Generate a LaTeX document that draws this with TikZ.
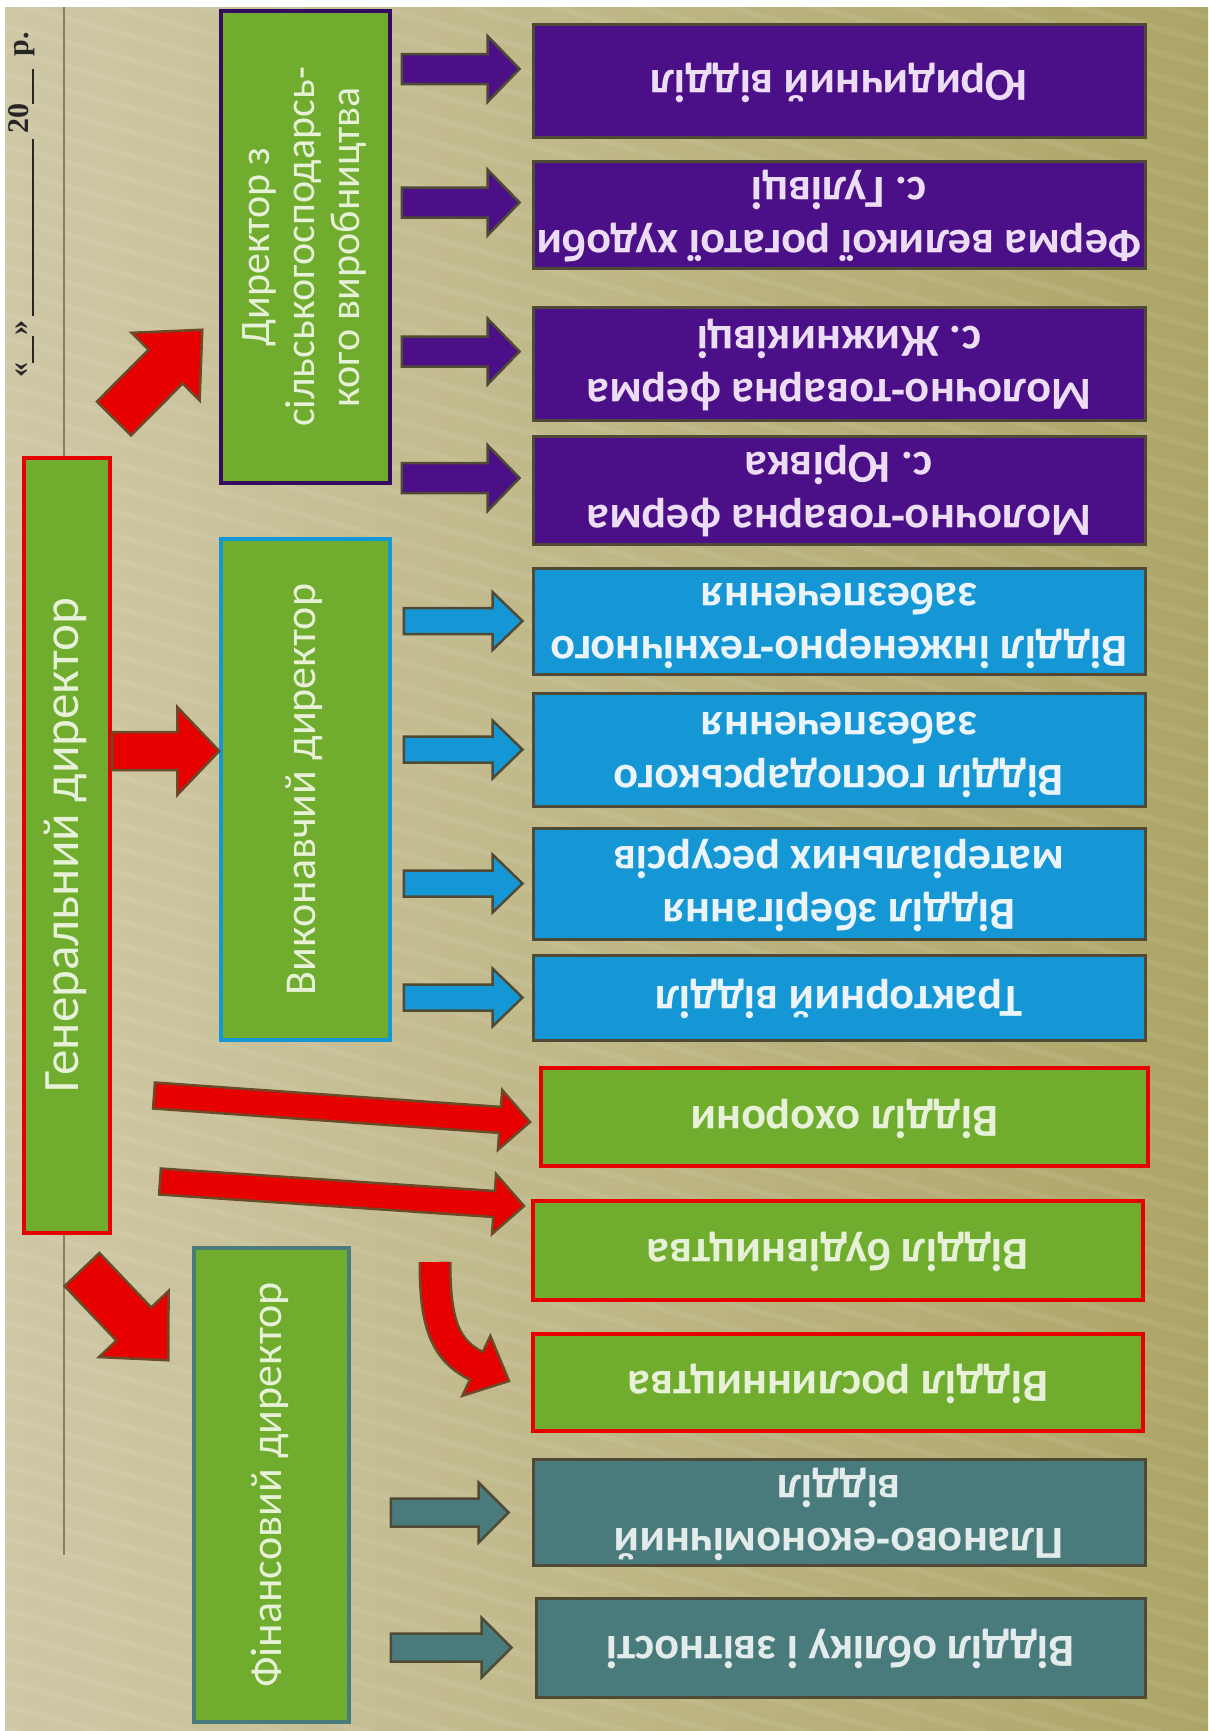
\documentclass[tikz,border=0pt]{standalone}
\usepackage{fontspec}
\setmainfont{Carlito}
\newfontfamily\datefont{Liberation Serif}
\usetikzlibrary{calc}
\frenchspacing

\definecolor{bgL}{HTML}{CFC8A6}
\definecolor{bgM}{HTML}{C7BF97}
\definecolor{bgR}{HTML}{ADA566}
\definecolor{leaf}{HTML}{70AD2F}
\definecolor{plum}{HTML}{4B1088}
\definecolor{sky}{HTML}{1597D5}
\definecolor{slate}{HTML}{4A7B7C}
\definecolor{alarm}{HTML}{E60000}
\definecolor{edge}{HTML}{4E4A35}
\definecolor{rededge}{HTML}{6B4A2A}
\definecolor{pale}{HTML}{E6F1D8}
\definecolor{lilac}{HTML}{ECDDF4}
\definecolor{iceblue}{HTML}{EAF4FA}
\definecolor{mist}{HTML}{E3ECEB}
\definecolor{rulegrey}{HTML}{857F62}

% text turned a quarter (reads upwards) or a half turn
\newcommand\txtturn[1]{\rotatebox{90}{\begin{tabular}{@{}c@{}}#1\end{tabular}}}
\newcommand\txtflip[1]{\rotatebox{180}{\begin{tabular}{@{}c@{}}#1\end{tabular}}}
\newcommand\blank[1]{\rule[-0.2em]{#1}{0.07em}}

% straight block arrow: tail, tip, half shaft, half head, head length, style
\newcommand\blockarrow[6]{%
  \coordinate (ba-c) at ($(#2)!#5!(#1)$);
  \draw[#6] ($(#1)!#3!90:(#2)$) -- ($(ba-c)!#3!90:(#2)$) -- ($(ba-c)!#4!90:(#2)$)
    -- (#2) -- ($(ba-c)!#4!-90:(#2)$) -- ($(ba-c)!#3!-90:(#2)$)
    -- ($(#1)!#3!-90:(#2)$) -- cycle;}

\tikzset{
  rbox/.style={rectangle, inner sep=0pt, minimum width=612bp, line width=3bp,
    font=\fontsize{46bp}{53bp}\selectfont\bfseries},
  purplebox/.style={rbox, fill=plum, draw=edge, text=lilac},
  bluebox/.style={rbox, fill=sky, draw=edge, text=iceblue},
  guardbox/.style={rbox, fill=leaf, draw=alarm, line width=4bp, text=pale},
  tealbox/.style={rbox, fill=slate, draw=edge, text=mist},
  lbox/.style={rectangle, inner sep=0pt, fill=leaf, text=pale, line width=3.5bp,
    font=\fontsize{44bp}{50bp}\selectfont},
  redarrow/.style={fill=alarm, draw=rededge, line width=2.5bp, line join=miter},
  purplearrow/.style={fill=plum, draw=edge, line width=2.5bp},
  bluearrow/.style={fill=sky, draw=edge, line width=2.5bp},
  tealarrow/.style={fill=slate, draw=edge, line width=2.5bp},
}

\begin{document}
\begin{tikzpicture}[x=1bp, y=-1bp]
\useasboundingbox (0,0) rectangle (1208,1731);

% background with soft diagonal stripes
\fill[white] (0,0) rectangle (1208,1731);
\shade[left color=bgL, middle color=bgM, right color=bgR] (5,7) rectangle (1208,1731);
\begin{scope}
  \clip (5,7) rectangle (1208,1731);
  \foreach \k in {-40,...,80}
    \draw[white, opacity=0.07, line width=6bp] (0,\k*24) -- (1208,\k*24+330);
\end{scope}

% date line and margin rule
\node[rotate=90, anchor=base, font=\datefont\bfseries\fontsize{30bp}{34bp}\selectfont,
  text=black!85] (date) at (28,205)
  {«\blank{27bp}»\,\blank{177bp}\,20\blank{35bp}\, р.};
\coordinate (rule-top) at (64,7);
\coordinate (rule-bot) at (64,1555);
\draw[rulegrey, line width=1.8bp] (rule-top) -- (rule-bot);

% directors
\node[lbox, draw=alarm, line width=4bp, minimum width=86bp, minimum height=775bp,
  font=\fontsize{51bp}{56bp}\selectfont]
  (gen) at (67,845) {\txtturn{Генеральний директор}};
\node[lbox, draw=plum!70!black, minimum width=169bp, minimum height=472bp,
  font=\fontsize{42bp}{45bp}\selectfont] (agri) at (305.5,247)
  {\txtturn{Директор з\\сільськогосподарсь-\\кого виробництва}};
\node[lbox, draw=sky, minimum width=169bp, minimum height=501bp]
  (exec) at (305.5,789.5) {\txtturn{Виконавчий директор}};
\node[lbox, draw=slate, minimum width=155bp, minimum height=474bp]
  (fin) at (271.5,1485) {\txtturn{Фінансовий директор}};

% departments
\node[purplebox, minimum height=112bp] (j1) at (839,81) {\txtflip{Юридичний відділ}};
\node[purplebox, minimum height=107bp] (j2) at (839,214.5)
  {\txtflip{Ферма великої рогатої худоби\\с. Гулівці}};
\node[purplebox, minimum height=113bp] (j3) at (839,363.5)
  {\txtflip{Молочно-товарна ферма\\с. Жижниківці}};
\node[purplebox, minimum height=108bp] (j4) at (839,490)
  {\txtflip{Молочно-товарна ферма\\с. Юрівка}};

\node[bluebox, minimum height=100bp] (b1) at (839,621)
  {\txtflip{Відділ інженерно-технічного\\забезпечення}};
\node[bluebox, minimum height=113bp] (b2) at (839,749.5)
  {\txtflip{Відділ господарського\\забезпечення}};
\node[bluebox, minimum height=111bp] (b3) at (839,883.5)
  {\txtflip{Відділ зберігання\\матеріальних ресурсів}};
\node[bluebox, minimum height=85bp] (b4) at (839,997.5)
  {\txtflip{Тракторний відділ}};

\node[guardbox, minimum width=607bp, minimum height=98bp] (g1) at (844.5,1117)
  {\txtflip{Відділ охорони}};
\node[guardbox, minimum width=610bp, minimum height=99bp] (g2) at (838,1250.5)
  {\txtflip{Відділ будівництва}};
\node[guardbox, minimum width=610bp, minimum height=97bp] (g3) at (838,1382.5)
  {\txtflip{Відділ рослинництва}};

\node[tealbox, minimum height=105bp] (t1) at (839,1512.5)
  {\txtflip{Планово-економічний\\відділ}};
\node[tealbox, minimum width=609bp, minimum height=99bp] (t2) at (840.5,1647.5)
  {\txtflip{Відділ обліку і звітності}};

% purple arrows
\foreach \n in {j1,j2,j3,j4}{
  \coordinate (\n-tail) at ($(agri.east |- \n.west)+(10,-12)$);
  \coordinate (\n-tip) at ($(\n.west)+(-12,-12)$);
  \blockarrow{\n-tail}{\n-tip}{15bp}{33bp}{32bp}{purplearrow}
}
% blue arrows
\foreach \n in {b1,b2,b3,b4}{
  \coordinate (\n-tail) at ($(exec.east |- \n.west)+(12,0)$);
  \coordinate (\n-tip) at ($(\n.west)+(-9,0)$);
  \blockarrow{\n-tail}{\n-tip}{13bp}{29bp}{30bp}{bluearrow}
}
% teal arrows
\foreach \n in {t1,t2}{
  \coordinate (\n-tail) at ($(fin.east |- \n.west)+(40,0)$);
  \coordinate (\n-tip) at ($(\n.west)+(-23,0)$);
  \blockarrow{\n-tail}{\n-tip}{14bp}{30bp}{30bp}{tealarrow}
}

% red arrows from the general director
\coordinate (ge-tail) at ($(gen.east)+(0,-94)$);
\coordinate (ge-tip) at (exec.west |- ge-tail);
\blockarrow{ge-tail}{ge-tip}{19bp}{44bp}{42bp}{redarrow}

\coordinate (ga-tail) at ($(gen.north east)+(2,-37)$);
\coordinate (ga-tip) at ($(agri.south west)+(-17,-155)$);
\blockarrow{ga-tail}{ga-tip}{24bp}{48bp}{52bp}{redarrow}

\coordinate (gf-tail) at ($(gen.south)+(15,35)$);
\coordinate (gf-tip) at ($(fin.north west)+(-24,114)$);
\blockarrow{gf-tail}{gf-tip}{24bp}{48bp}{50bp}{redarrow}

\coordinate (g1-tail) at ($(gen.south east)+(42,-139)$);
\coordinate (g1-tip) at ($(g1.west)+(-9,5)$);
\blockarrow{g1-tail}{g1-tip}{13bp}{30bp}{30bp}{redarrow}

\coordinate (g2-tail) at ($(gen.south east)+(48,-53)$);
\coordinate (g2-tip) at ($(g2.north west)+(-7,7)$);
\blockarrow{g2-tail}{g2-tip}{13bp}{30bp}{30bp}{redarrow}

% curved red arrow
\coordinate (cv-tail) at ($(g2.west)+(-96,11.5)$);
\coordinate (cv-tip) at ($(g3.west)+(-22,-1.5)$);
\coordinate (cv-base) at ($(cv-tip)+(-32.6,-15.2)$);
\draw[rededge, line width=33bp] (cv-tail) .. controls ($(cv-tail)+(0,58)$) and ($(cv-base)+(-33,-16)$) .. (cv-base);
\draw[redarrow] ($(cv-base)!33bp!90:(cv-tip)$) -- (cv-tip) -- ($(cv-base)!33bp!-90:(cv-tip)$) -- cycle;
\draw[alarm, line width=28bp] (cv-tail) .. controls ($(cv-tail)+(0,58)$) and ($(cv-base)+(-33,-16)$) .. ($(cv-base)!2bp!(cv-tip)$);
\end{tikzpicture}
\end{document}
